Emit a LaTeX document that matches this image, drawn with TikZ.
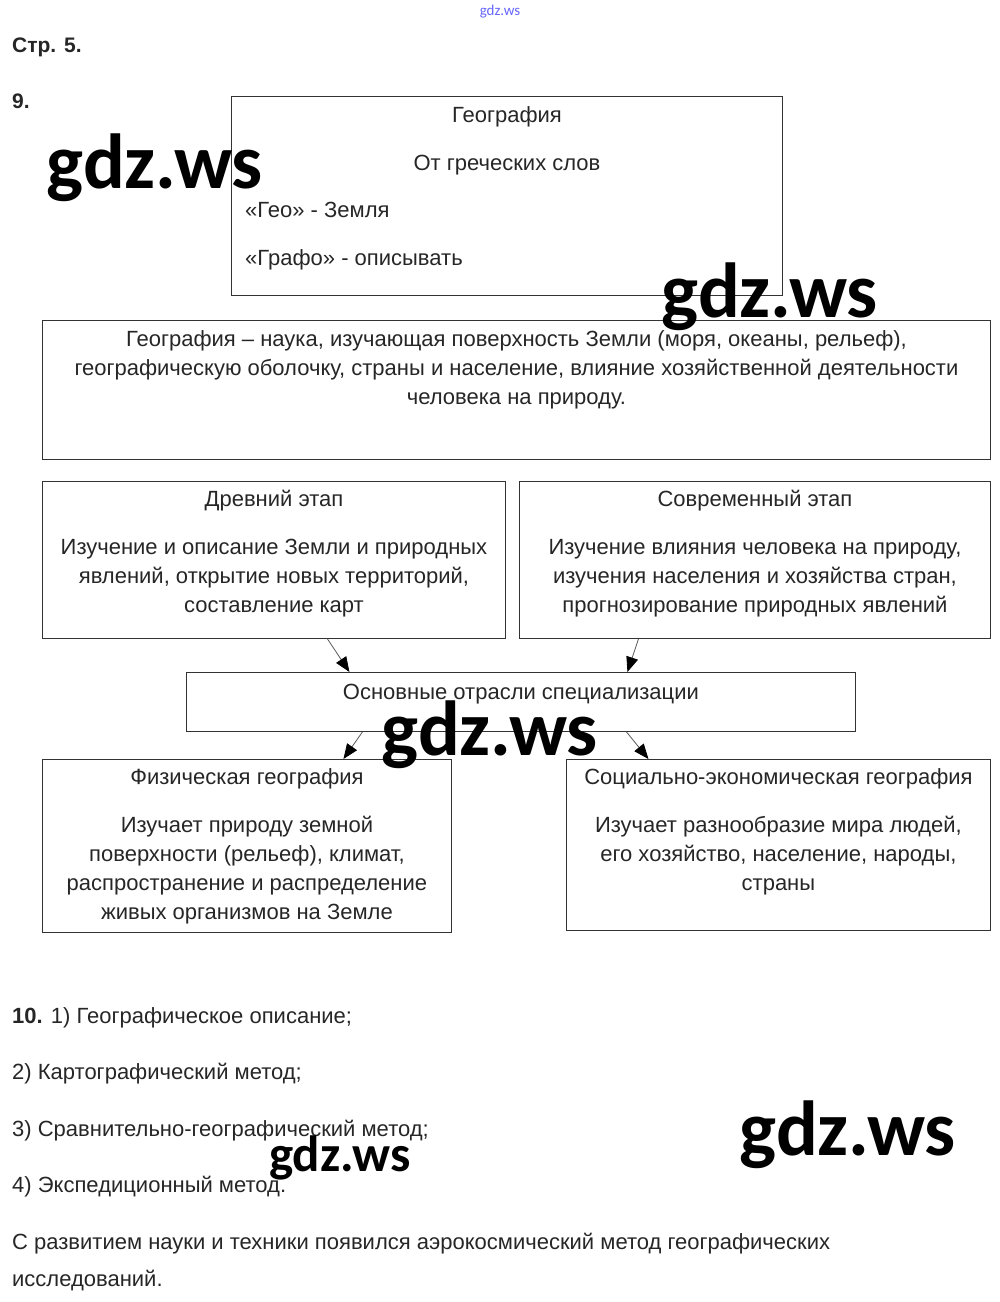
\documentclass[tikz,border=0pt]{standalone}
\usepackage{fontspec}
\setmainfont{Liberation Sans}
\newfontfamily\wmfont{Carlito}
\usetikzlibrary{positioning,arrows.meta}

\begin{document}
\begin{tikzpicture}[
  x=1pt, y=-1pt,
  font=\fontsize{22}{29}\selectfont,
  box/.style={draw=black!80, line width=0.9pt, anchor=north west, inner sep=0pt},
  txt/.style={anchor=base, align=center, inner sep=0pt, text=black!85},
  lft/.style={anchor=base west, align=left, inner sep=0pt, text=black!85},
  wm/.style={inner sep=0pt, font=\wmfont\bfseries\fontsize{78}{78}\selectfont},
  arr/.style={-{Triangle[length=15pt,width=12pt,color=black]}, draw=black!65, line width=0.8pt}
]
\useasboundingbox (0,0) rectangle (1000,1302);

\node[inner sep=0pt, text=blue!60, font=\wmfont\fontsize{15}{15}\selectfont] (wmtop) at (500,12) {gdz.ws};
\node[lft, font=\bfseries\fontsize{21}{29}\selectfont] (page) at (12,52) {Стр. 5.};
\node[lft, font=\bfseries\fontsize{21}{29}\selectfont] (num9) at (12,108) {9.};

% boxes
\node[box, minimum width=551pt, minimum height=199pt] (geo) at (231,96) {};
\node[box, minimum width=948pt, minimum height=139pt] (defn) at (42,320) {};
\node[box, minimum width=463pt, minimum height=157pt] (drev) at (42,481) {};
\node[box, minimum width=471pt, minimum height=157pt] (sovr) at (519,481) {};
\node[box, minimum width=669pt, minimum height=59pt] (osn) at (186,672) {};
\node[box, minimum width=409pt, minimum height=173pt] (fiz) at (42,759) {};
\node[box, minimum width=424pt, minimum height=171pt] (soc) at (566,759) {};

% texts in boxes (base = last line)
\node[txt] (geot) at ([yshift=-26pt]geo.north) {География};
\node[txt] (greek) at ([yshift=-74pt]geo.north) {От греческих слов};
\node[lft] (geo1) at ([xshift=14pt,yshift=-121pt]geo.north west) {«Гео» - Земля};
\node[lft] (geo2) at ([xshift=14pt,yshift=-169pt]geo.north west) {«Графо» - описывать};

\node[txt] (defnt) at ([yshift=-84pt]defn.north)
  {География – наука, изучающая поверхность Земли (моря, океаны, рельеф),\\
   географическую оболочку, страны и население, влияние хозяйственной деятельности\\
   человека на природу.};

\node[txt] (drevt) at ([yshift=-25pt]drev.north) {Древний этап};
\node[txt] (drevd) at ([yshift=-131pt]drev.north)
  {Изучение и описание Земли и природных\\ явлений, открытие новых территорий,\\ составление карт};
\node[txt] (sovrt) at ([yshift=-25pt]sovr.north) {Современный этап};
\node[txt] (sovrd) at ([yshift=-131pt]sovr.north)
  {Изучение влияния человека на природу,\\ изучения населения и хозяйства стран,\\ прогнозирование природных явлений};

\node[txt] (osnt) at ([yshift=-27pt]osn.north) {Основные отрасли специализации};

\node[txt] (fizt) at ([yshift=-25pt]fiz.north) {Физическая география};
\node[txt] (fizd) at ([yshift=-160pt]fiz.north)
  {Изучает природу земной\\ поверхности (рельеф), климат,\\ распространение и распределение\\ живых организмов на Земле};
\node[txt] (soct) at ([yshift=-25pt]soc.north) {Социально-экономическая география};
\node[txt] (socd) at ([yshift=-131pt]soc.north)
  {Изучает разнообразие мира людей,\\ его хозяйство, население, народы,\\ страны};

\draw[arr] ([xshift=53.5pt]drev.south) -- ([xshift=-171.5pt]osn.north);
\draw[arr] ([xshift=-116.5pt]sovr.south) -- ([xshift=106.5pt]osn.north);
\draw[arr] ([xshift=-158.5pt]osn.south) -- ([xshift=96.5pt]fiz.north);
\draw[arr] ([xshift=105.5pt]osn.south) -- ([xshift=-130pt]soc.north);

% task 10
\node[lft] (num10) at (12,1023) {\textbf{10.} 1) Географическое описание;};
\node[lft] (m2) at (12,1079) {2) Картографический метод;};
\node[lft] (m3) at (12,1136) {3) Сравнительно-географический метод;};
\node[lft] (m4) at (12,1192) {4) Экспедиционный метод.};
\node[lft] (aero) at (12,1249) {С развитием науки и техники появился аэрокосмический метод географических};
\node[lft] (aero2) at (12,1286) {исследований.};

% watermarks
\node[wm] (wm1) at (155,168) {gdz.ws};
\node[wm] (wm2) at (770,297) {gdz.ws};
\node[wm] (wm3) at (490,735) {gdz.ws};
\node[wm] (wm4) at (848,1135) {gdz.ws};
\node[wm, font=\wmfont\bfseries\fontsize{51}{51}\selectfont] (wm5) at (340,1158) {gdz.ws};
\end{tikzpicture}
\end{document}
